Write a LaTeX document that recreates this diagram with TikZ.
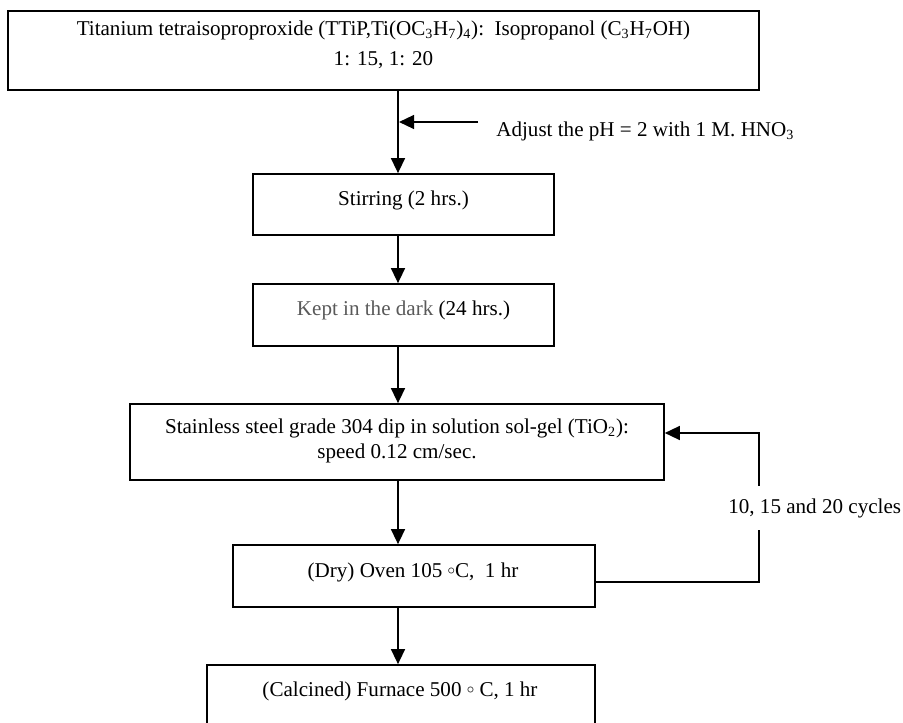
\documentclass[tikz,border=0pt]{standalone}
\usepackage{fontspec}
\setmainfont{Liberation Serif}
\usetikzlibrary{arrows.meta}
\definecolor{keptgray}{RGB}{90,90,90}

\tikzset{
  stepbox/.style={draw, rectangle, line width=1pt, inner sep=0pt},
  steptext/.style={font=\fontsize{12}{14.2}\selectfont, align=center, inner sep=0pt},
  arr/.style={-{Triangle[length=0.3cm,width=0.28cm]}, line width=0.8pt},
  link/.style={line width=0.8pt}
}
\newcommand{\degc}{\raisebox{0.3ex}{$\scriptstyle\circ$}}

\begin{document}
\begin{tikzpicture}[x=0.02cm, y=-0.02cm]
    \useasboundingbox (0,0) rectangle (903,723);
    \fill[white] (0,0) rectangle (903,723);

    % Caixas
    \node[stepbox, minimum width=15.02cm, minimum height=1.58cm] (top) at (383.5,50.5) {};
    \node[stepbox, minimum width=6.02cm, minimum height=1.22cm] (stir) at (403.5,204.5) {};
    \node[stepbox, minimum width=6.02cm, minimum height=1.24cm] (dark) at (403.5,315) {};
    \node[stepbox, minimum width=10.68cm, minimum height=1.52cm] (dip) at (397,442) {};
    \node[stepbox, minimum width=7.24cm, minimum height=1.24cm] (dry) at (414,576) {};
    \node[stepbox, minimum width=7.76cm, minimum height=1.6cm] (calc) at (401,705) {};

    % Textos
    \node[steptext, font=\fontsize{12}{17}\selectfont] (toptxt) at (383.5,45)
        {Titanium tetraisoproproxide (TTiP,Ti(OC\textsubscript{3}H\textsubscript{7})\textsubscript{4}):\ \ Isopropanol (C\textsubscript{3}H\textsubscript{7}OH)\\1: 15, 1: 20};
    \node[steptext, anchor=base] (stirtxt) at (403.5,205) {Stirring (2 hrs.)};
    \node[steptext, anchor=base] (darktxt) at (403.5,315) {\textcolor{keptgray}{Kept in the dark} (24 hrs.)};
    \node[steptext] (diptxt) at (397,441)
        {Stainless steel grade 304 dip in solution sol-gel (TiO\textsubscript{2}):\\speed 0.12 cm/sec.};
    \node[steptext, anchor=base] (drytxt) at (413,577) {(Dry) Oven 105 \degc C,\ \ 1 hr};
    \node[steptext, anchor=base] (calctxt) at (400,696) {(Calcined) Furnace 500 \degc\ C, 1 hr};
    \node[steptext, anchor=base west] (adjust) at (496,136) {Adjust the pH = 2 with 1 M. HNO\textsubscript{3}};
    \node[steptext, anchor=base west, inner ysep=7pt] (cycles) at (728,513) {10, 15 and 20 cycles};

    % Setas
    \coordinate (spine) at (398,0);
    \coordinate (adjfrom) at (478,122);
    \draw[arr] (top.south -| spine) -- (stir.north -| spine);
    \draw[arr, shorten >=0.6pt] (adjfrom) -- (adjfrom -| spine);
    \draw[arr] (stir.south -| spine) -- (dark.north -| spine);
    \draw[arr] (dark.south -| spine) -- (dip.north -| spine);
    \draw[arr] (dip.south -| spine) -- (dry.north -| spine);
    \draw[arr] (dry.south -| spine) -- (calc.north -| spine);

    % Ciclo
    \coordinate (loopbot) at (759,582);
    \coordinate (looptop) at (759,433);
    \draw[link] (dry.east |- loopbot) -- (loopbot) -- (cycles.south -| loopbot);
    \draw[arr] (cycles.north -| loopbot) -- (looptop) -- (dip.east |- looptop);
\end{tikzpicture}
\end{document}
